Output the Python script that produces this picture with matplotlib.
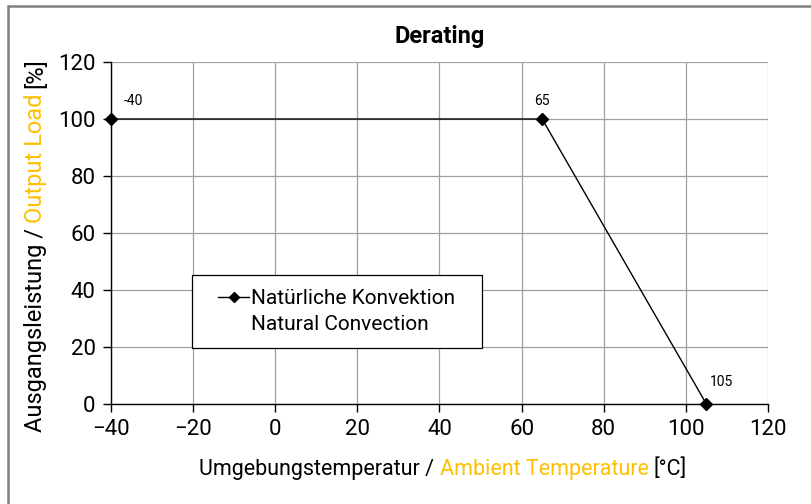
import matplotlib
matplotlib.use('Agg')
import matplotlib.pyplot as plt
from matplotlib.patches import Rectangle

# derating curve
temp = [-40, 65, 105]
load = [100, 100, 0]
point_labels = ['-40', '65', '105']

x_ticks = [-40, -20, 0, 20, 40, 60, 80, 100, 120]
y_ticks = [0, 20, 40, 60, 80, 100, 120]

legend_lines = ['Natürliche Konvektion', 'Natural Convection']

ylabel_parts = [('Ausgangsleistung /', 'black'), ('Output Load', '#FFC000'), ('[%]', 'black')]
xlabel_parts = [('Umgebungstemperatur /', 'black'), ('Ambient Temperature', '#FFC000'), ('[°C]', 'black')]

plt.rcParams['font.family'] = ['Roboto', 'DejaVu Sans']

fig = plt.figure(figsize=(8.12, 5.04), dpi=100)
ax = fig.add_axes([0.1367, 0.1984, 0.8091, 0.6786])

# grey frame round the chart (only top and left edges are visible)
fig.add_artist(Rectangle((8 / 812, -0.5), 1.5, 1.5 - 6 / 504, transform=fig.transFigure,
                         fill=False, edgecolor='#808080', linewidth=1.8))

ax.plot(temp, load, color='black', linewidth=1, marker='D', markersize=6,
        label=legend_lines[0], zorder=3, clip_on=False)
ax.plot([], [], linestyle='none', marker='none', label=legend_lines[1])

offsets = [(16, 13), (0, 13), (11, 16)]
for x, y, s, off in zip(temp, load, point_labels, offsets):
    ax.annotate(s, (x, y), xytext=off, textcoords='offset points',
                ha='center', va='center', fontsize=10)

ax.set_xlim(-40, 120)
ax.set_ylim(0, 120)
ax.set_xticks(x_ticks)
ax.set_yticks(y_ticks)
ax.tick_params(direction='out', length=6, width=1, labelsize=16, color='black', pad=5)
ax.grid(True, color='#a0a0a0', linewidth=0.9)
ax.set_axisbelow(True)
for side in ['top', 'right']:
    ax.spines[side].set_visible(False)
for side in ['left', 'bottom']:
    ax.spines[side].set_linewidth(1)

ax.set_title('Derating', fontsize=17, fontweight='bold', pad=14)

# legend box drawn by hand, entries placed inside without a frame
box = (0.123, 0.164, 0.441, 0.213)
ax.add_patch(Rectangle(box[:2], box[2], box[3], transform=ax.transAxes, facecolor='white',
                       edgecolor='black', linewidth=0.9, zorder=4))
leg = ax.legend(loc='center', bbox_to_anchor=(box[0] + box[2] / 2, box[1] + box[3] / 2),
                fontsize=15, frameon=False, handlelength=1.5, handletextpad=0.1,
                labelspacing=0.35, borderpad=0, borderaxespad=0)
leg.set_zorder(5)
leg.legend_handles[0].set_markersize(5)


def colour_label(parts, mid_xy, rotation, size):
    # place the middle piece, then chain the others on each side
    mid = fig.text(mid_xy[0], mid_xy[1], parts[1][0], color=parts[1][1], fontsize=size,
                   rotation=rotation, ha='center', va='center')
    if rotation == 90:
        ax.annotate(parts[0][0], xy=(0.5, 0), xycoords=mid, xytext=(0, -4), textcoords='offset points',
                    rotation=90, ha='center', va='top', fontsize=size, color=parts[0][1])
        ax.annotate(parts[2][0], xy=(0.5, 1), xycoords=mid, xytext=(0, 4), textcoords='offset points',
                    rotation=90, ha='center', va='bottom', fontsize=size, color=parts[2][1])
    else:
        ax.annotate(parts[0][0], xy=(0, 0.5), xycoords=mid, xytext=(-4, 0), textcoords='offset points',
                    ha='right', va='center', fontsize=size, color=parts[0][1])
        ax.annotate(parts[2][0], xy=(1, 0.5), xycoords=mid, xytext=(4, 0), textcoords='offset points',
                    ha='left', va='center', fontsize=size, color=parts[2][1])


colour_label(ylabel_parts, (36 / 812, 1 - 158 / 504), 90, 17)
colour_label(xlabel_parts, (544 / 812, 1 - 469 / 504), 0, 15.5)

plt.savefig('out.png', dpi=100)
